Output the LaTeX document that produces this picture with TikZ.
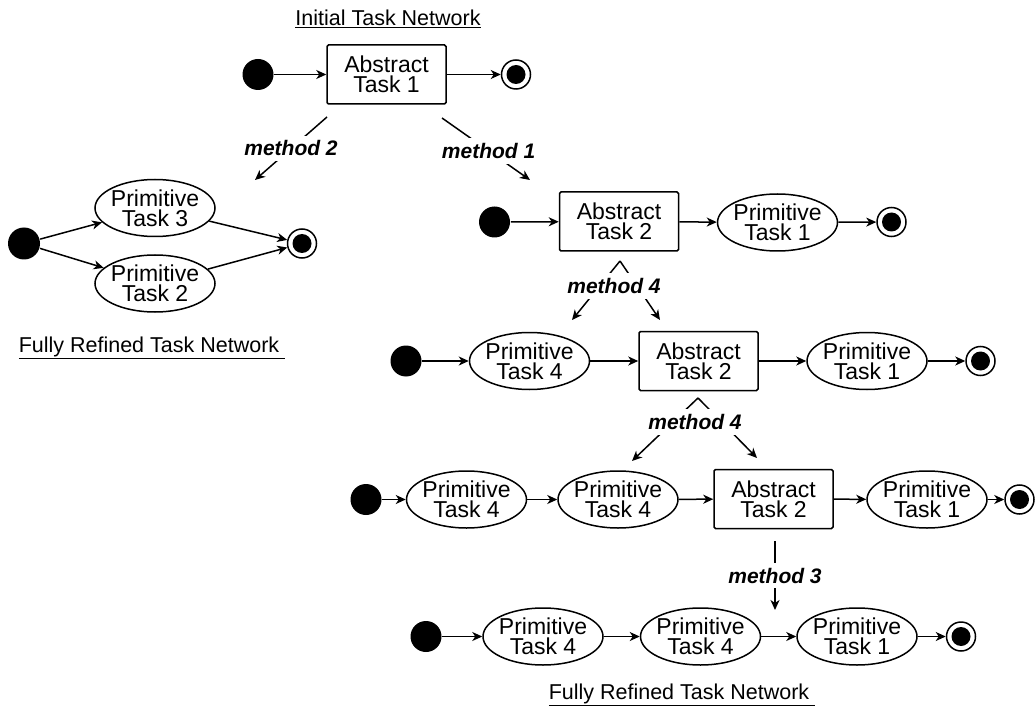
\documentclass[tikz,border=0pt]{standalone}
\usepackage{fontspec}
\setmainfont{Liberation Sans}
\usetikzlibrary{arrows.meta,shapes.geometric}
\newcommand{\twol}[2]{\makebox[0pt]{#1}\\\makebox[0pt]{#2}}
\newcommand{\nodefont}{\fontsize{23}{20}\selectfont}
\newcommand{\methfont}{\fontsize{21}{24}\selectfont\bfseries\itshape}
\newcommand{\ttlfont}{\fontsize{21.5}{24}\selectfont}
\begin{document}
\begin{tikzpicture}[x=1pt,y=-1pt,line width=1.5pt,
  arr/.style={-{Stealth[length=10pt,width=9pt,inset=3pt]}},
  startc/.style={circle,fill=black,minimum size=31pt,inner sep=0pt},
  endc/.style={circle,draw,fill=white,minimum size=29pt,inner sep=0pt,
    path picture={\fill[black] (path picture bounding box.center) circle[radius=9.5pt];}},
  abox/.style={draw,rectangle,rounded corners=1.5pt,minimum width=119pt,minimum height=59pt,inner sep=0pt,align=center,font=\nodefont},
  pell/.style={draw,ellipse,minimum width=120pt,minimum height=57pt,inner sep=0pt,align=center,font=\nodefont},
  mlab/.style={fill=white,inner sep=5pt,font=\methfont},
  ttl/.style={font=\ttlfont,inner sep=0pt}]
\useasboundingbox (0,0) rectangle (1035,708);

% titles
\node[ttl,anchor=base] (t1) at (388,26) {\underline{Initial Task Network}};
\node[ttl,anchor=base west] (t2) at (18,352) {\underline{Fully Refined Task Network\ }};
\node[ttl,anchor=base west] (t3) at (548,699) {\underline{Fully Refined Task Network\ }};

% row 1
\node[startc] (s1) at (258,74.5) {};
\node[abox] (a1) at (386.5,74.5) {Abstract\\Task 1};
\node[endc] (e1) at (516,74.5) {};
\draw[arr] (s1) -- (a1);
\draw[arr] (a1) -- (e1);

% left network
\node[startc,minimum size=32pt] (sL) at (24,243.5) {};
\node[pell] (p3) at (155,208) {\twol{Primitive}{Task 3}};
\node[pell] (p2) at (155,283.5) {\twol{Primitive}{Task 2}};
\node[endc] (eL) at (302,243.5) {};
\draw[arr] (sL) -- (p3);
\draw[arr] (sL) -- (p2);
\draw[arr] (p3) -- (eL);
\draw[arr] (p2) -- (eL);

% row 2
\node[startc] (s2) at (494.5,222) {};
\node[abox] (a2) at (619,221.5) {Abstract\\Task 2};
\node[pell] (p1b) at (777.5,222.5) {\twol{Primitive}{Task 1}};
\node[endc] (e2) at (891.5,222) {};
\draw[arr] (s2) -- (a2);
\draw[arr] (a2) -- (p1b);
\draw[arr] (p1b) -- (e2);

% row 3
\node[startc] (s3) at (406,361) {};
\node[pell] (p4c) at (529.5,361) {\twol{Primitive}{Task 4}};
\node[abox] (a3) at (698.5,361) {Abstract\\Task 2};
\node[pell] (p1c) at (867,361) {\twol{Primitive}{Task 1}};
\node[endc] (e3) at (980.5,361) {};
\draw[arr] (s3) -- (p4c);
\draw[arr] (p4c) -- (a3);
\draw[arr] (a3) -- (p1c);
\draw[arr] (p1c) -- (e3);

% row 4
\node[startc] (s4) at (366,499.5) {};
\node[pell] (p4d) at (466.5,499.5) {\twol{Primitive}{Task 4}};
\node[pell] (p4e) at (618,499.5) {\twol{Primitive}{Task 4}};
\node[abox] (a4) at (773.5,499) {Abstract\\Task 2};
\node[pell] (p1d) at (927,499.5) {\twol{Primitive}{Task 1}};
\node[endc] (e4) at (1019.5,499.5) {};
\draw[arr] (s4) -- (p4d);
\draw[arr] (p4d) -- (p4e);
\draw[arr] (p4e) -- (a4);
\draw[arr] (a4) -- (p1d);
\draw[arr] (p1d) -- (e4);

% row 5
\node[startc] (s5) at (426,636.5) {};
\node[pell] (p4f) at (543,636.5) {\twol{Primitive}{Task 4}};
\node[pell] (p4g) at (700.5,636.5) {\twol{Primitive}{Task 4}};
\node[pell] (p1f) at (857,636.5) {\twol{Primitive}{Task 1}};
\node[endc] (e5) at (961,636.5) {};
\draw[arr] (s5) -- (p4f);
\draw[arr] (p4f) -- (p4g);
\draw[arr] (p4g) -- (p1f);
\draw[arr] (p1f) -- (e5);

% method 2 and method 1
\coordinate (m2a) at (327,117);
\coordinate (m2b) at (255,180);
\draw[arr] (m2a) -- node[mlab] (m2l) {method 2} (m2b);
\coordinate (m1a) at (442,118);
\coordinate (m1b) at (530,180);
\draw[arr] (m1a) -- node[mlab,pos=0.53] (m1l) {method 1} (m1b);

% method 4 (first)
\coordinate (m4a) at (620,261);
\coordinate (m4al) at (572,320);
\coordinate (m4ar) at (660,320);
\draw[arr] (m4a) -- (m4al);
\draw[arr] (m4a) -- (m4ar);
\node[mlab] (m4l) at (614,286) {method 4};

% method 4 (second)
\coordinate (m4b) at (698,398);
\coordinate (m4bl) at (632,461);
\coordinate (m4br) at (757,458);
\draw[arr] (m4b) -- (m4bl);
\draw[arr] (m4b) -- (m4br);
\node[mlab] (m4bl2) at (695,422) {method 4};

% method 3
\coordinate (m3a) at (775,541);
\coordinate (m3b) at (775,610);
\draw[arr] (m3a) -- node[mlab] (m3l) {method 3} (m3b);
\end{tikzpicture}
\end{document}
